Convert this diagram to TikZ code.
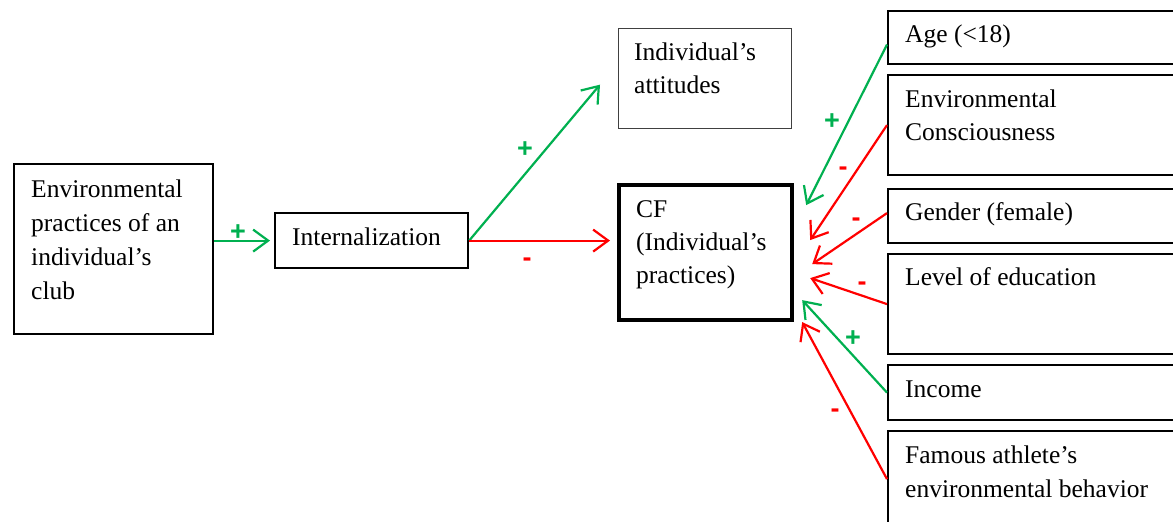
\documentclass[tikz,border=0pt]{standalone}
\usepackage{fontspec}
\setmainfont{Liberation Serif}
\newfontfamily\signfont{Liberation Sans}
\usetikzlibrary{arrows.meta,calc}
\definecolor{posgreen}{HTML}{00B050}
\definecolor{negred}{HTML}{FF0000}
\begin{document}
\begin{tikzpicture}[x=1pt,y=-1pt,
  box/.style={draw=black,line width=2.2pt,inner sep=0pt,anchor=north west},
  thinbox/.style={draw=black!75,line width=1.3pt,inner sep=0pt,anchor=north west},
  thickbox/.style={draw=black,line width=4.2pt,inner sep=0pt,anchor=north west},
  txt/.style={anchor=base west,inner sep=0pt,font=\fontsize{25.5}{34}\selectfont,align=left},
  link/.style={line width=2.2pt,-{Straight Barb[length=15pt,width=22pt,line width=2.2pt]}},
  posarrow/.style={link,draw=posgreen},
  negarrow/.style={link,draw=negred},
  psign/.style={inner sep=0pt,text=posgreen,font=\signfont\bfseries\fontsize{27}{27}\selectfont},
  nsign/.style={inner sep=0pt,text=negred,font=\signfont\bfseries\fontsize{27}{27}\selectfont}]
\clip (0,0) rectangle (1173,522);
\fill[white] (0,0) rectangle (1173,522);
% boxes
\node[box,minimum width=199pt,minimum height=170pt] (club) at (13,163) {};
\node[box,minimum width=193pt,minimum height=55pt] (intern) at (274,212) {};
\node[thinbox,minimum width=173pt,minimum height=100pt] (att) at (618,28) {};
\node[thickbox,minimum width=173pt,minimum height=135pt] (cf) at (617,183) {};
\node[box,minimum width=320pt,minimum height=53pt] (age) at (887,10) {};
\node[box,minimum width=320pt,minimum height=100pt] (env) at (887,74) {};
\node[box,minimum width=320pt,minimum height=54pt] (gen) at (887,188) {};
\node[box,minimum width=320pt,minimum height=100pt] (edu) at (887,253) {};
\node[box,minimum width=320pt,minimum height=55pt] (inc) at (887,364) {};
\node[box,minimum width=320pt,minimum height=100pt] (fam) at (887,430) {};
% texts
\node[txt] (tclub1) at (31,197) {Environmental};
\node[txt] (tclub2) at (31,231) {practices of an};
\node[txt] (tclub3) at (31,265) {individual’s};
\node[txt] (tclub4) at (31,299) {club};
\node[txt] (tint) at (292,245) {Internalization};
\node[txt] (tatt1) at (634,60) {Individual’s};
\node[txt] (tatt2) at (634,93) {attitudes};
\node[txt] (tcf1) at (636,217) {CF};
\node[txt] (tcf2) at (636,250) {(Individual’s};
\node[txt] (tcf3) at (636,283) {practices)};
\node[txt] (tage) at (905,42) {Age (<18)};
\node[txt] (tenv1) at (905,107) {Environmental};
\node[txt] (tenv2) at (905,140) {Consciousness};
\node[txt] (tgen) at (905,220) {Gender (female)};
\node[txt] (tedu) at (905,285) {Level of education};
\node[txt] (tinc) at (905,397) {Income};
\node[txt] (tfam1) at (905,463) {Famous athlete’s};
\node[txt] (tfam2) at (905,497) {environmental behavior};
% connectors
\draw[posarrow] (club.east |- intern.west) -- ([xshift=-4pt]intern.west);
\draw[posarrow] (intern.east) -- ([xshift=-18pt,yshift=-6pt]att.west);
\draw[negarrow] (intern.east) -- ([xshift=-7pt]intern.east -| cf.west);
\draw[posarrow] ([yshift=-7pt]age.west) -- ([xshift=12pt,yshift=47.5pt]cf.east);
\draw[negarrow] (env.west) -- ([xshift=16pt,yshift=12.5pt]cf.east);
\draw[negarrow] ([yshift=3pt]gen.west) -- ([xshift=18pt,yshift=-11.5pt]cf.east);
\draw[negarrow] (edu.west) -- ([xshift=16pt,yshift=-25.5pt]cf.east);
\draw[posarrow] (inc.west) -- ([xshift=8pt,yshift=-47.5pt]cf.east);
\draw[negarrow] ([yshift=2pt]fam.west) -- ([xshift=8pt,yshift=-69.5pt]cf.east);
% signs
\node[psign] (s1) at (238,233) {+};
\node[psign] (s2) at (525,150) {+};
\node[nsign] (s3) at (527,262) {-};
\node[psign] (s4) at (832,122) {+};
\node[nsign] (s5) at (843,171) {-};
\node[nsign] (s6) at (856,222) {-};
\node[nsign] (s7) at (862,286) {-};
\node[psign] (s8) at (853,339) {+};
\node[nsign] (s9) at (835,413) {-};
\end{tikzpicture}
\end{document}
